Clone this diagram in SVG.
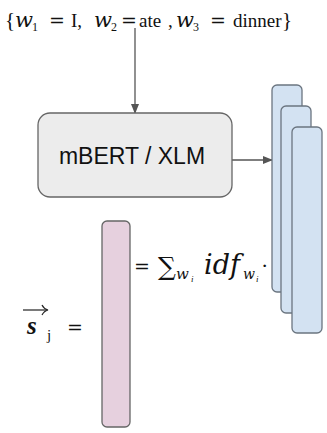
<svg xmlns="http://www.w3.org/2000/svg" width="327" height="433" viewBox="0 0 327 433">
<defs>
<style>
.m{font-family:"Liberation Serif","DejaVu Serif",serif;fill:#111}
.d{font-family:"DejaVu Serif","Liberation Serif",serif}
.i{font-style:italic}
.con{stroke:#555;stroke-width:1.3;fill:none}
.vec{fill:#d3e2f2;stroke:#6b7580;stroke-width:1.3}
</style>
<marker id="ah" markerWidth="10" markerHeight="8" refX="9" refY="4" orient="auto" markerUnits="userSpaceOnUse">
<path d="M0,0 L10,4 L0,8 z" fill="#555"/>
</marker>
</defs>
<rect width="327" height="433" fill="#fff"/>
<g id="input">
<text class="m" font-size="19" y="27">
<tspan x="5" font-size="21">{</tspan><tspan x="15" class="d i" font-size="21">w</tspan><tspan x="32" y="31" font-size="12">1</tspan><tspan x="49" y="27" class="d" font-size="19">=</tspan><tspan x="71">I,</tspan><tspan x="94" class="d i" font-size="21">w</tspan><tspan x="111" y="31" font-size="12">2</tspan><tspan x="121" y="27" class="d" font-size="19">=</tspan><tspan x="139">ate</tspan><tspan x="168">,</tspan><tspan x="176" class="d i" font-size="21">w</tspan><tspan x="193" y="31" font-size="12">3</tspan><tspan x="210" y="27" class="d" font-size="19">=</tspan><tspan x="233">dinner</tspan><tspan x="282" font-size="21">}</tspan>
</text>
</g>
<g id="connectors">
<line class="con" x1="135" y1="28" x2="135" y2="113" marker-end="url(#ah)"/>
<line class="con" x1="232" y1="160" x2="272" y2="160" marker-end="url(#ah)"/>
</g>
<g id="mbert">
<rect x="38" y="113" width="194" height="84" rx="12" fill="#ececec" stroke="#666" stroke-width="1.3"/>
<text x="132" y="164" text-anchor="middle" font-family="Liberation Sans,Arial,sans-serif" font-size="23" fill="#111">mBERT / XLM</text>
</g>
<g id="vectors">
<rect class="vec" x="272" y="85" width="30" height="207" rx="5"/>
<rect class="vec" x="281" y="106" width="30" height="207" rx="5"/>
<rect class="vec" x="292" y="127" width="30" height="206" rx="5"/>
</g>
<g id="sentence-vector">
<rect x="102" y="221" width="28" height="206" rx="5" fill="#e6d0de" stroke="#666" stroke-width="1.3"/>
</g>
<g id="formula">
<text class="m" font-size="22" y="273"><tspan x="134" class="d" font-size="19">=</tspan><tspan x="158" y="275" class="d" font-size="25">∑</tspan><tspan x="176" y="279" font-size="15" class="d i">w</tspan><tspan x="191" y="282" font-size="9" class="i">i</tspan><tspan x="204" y="274" class="d i" font-size="27">idf</tspan><tspan x="243" y="279" font-size="14" class="d i">w</tspan><tspan x="256" y="282" font-size="9" class="i">i</tspan><tspan x="261" y="273">·</tspan></text>
</g>
<g id="lhs">
<text class="m" font-size="25" y="334"><tspan x="27" font-weight="bold" font-style="italic">s</tspan><tspan x="47" y="340" font-size="15">j</tspan><tspan x="67" y="334" class="d" font-size="19">=</tspan></text>
<line x1="23" y1="310" x2="47" y2="310" stroke="#222" stroke-width="1.2"/>
<path d="M42,305 Q44,309 48,310 Q44,311 42,315" fill="none" stroke="#222" stroke-width="1.2"/>
</g>
</svg>
